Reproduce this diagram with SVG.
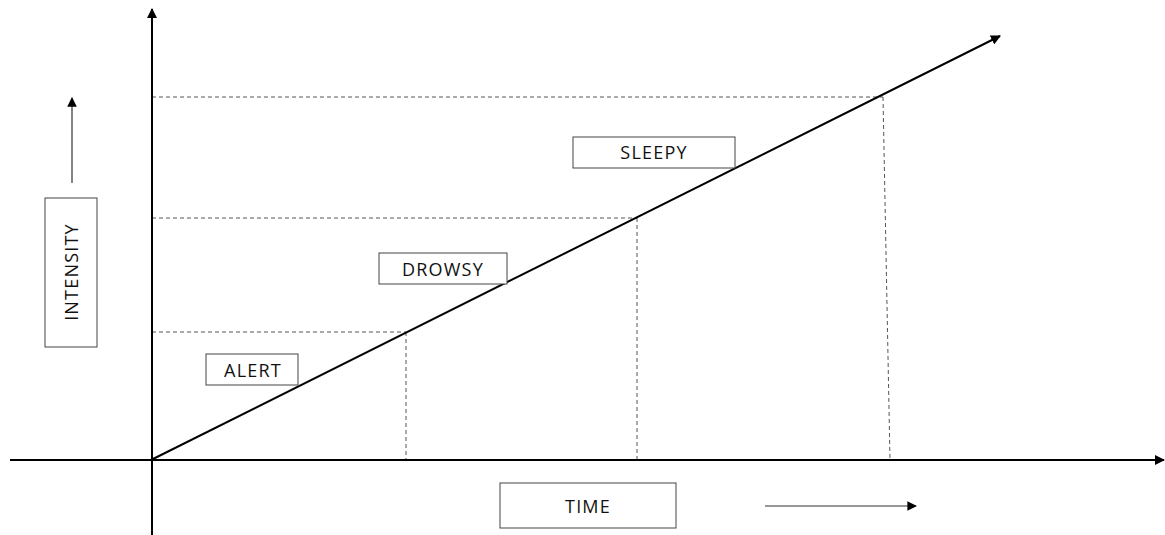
<svg xmlns="http://www.w3.org/2000/svg" width="1165" height="535" viewBox="0 0 1165 535">
<style>
.axis{stroke:#000;stroke-width:2;fill:none}
.dash{stroke:#555;stroke-width:1;stroke-dasharray:4 3;fill:none}
.box{fill:#fff;stroke:#444;stroke-width:1}
.lbl{font-family:"Open Sans","Liberation Sans",sans-serif;font-size:18px;letter-spacing:1.2px;fill:#111;text-anchor:middle}
.thin{stroke:#333;stroke-width:1.2;fill:none}
</style>
<defs>
<marker id="ah" viewBox="0 0 10 10" refX="9" refY="5" markerWidth="5" markerHeight="5" orient="auto" markerUnits="strokeWidth">
<path d="M0,0 L10,5 L0,10 z" fill="#000"/>
</marker>
<marker id="ahs" viewBox="0 0 10 10" refX="9" refY="5" markerWidth="8" markerHeight="8" orient="auto" markerUnits="strokeWidth">
<path d="M0,0 L10,5 L0,10 z" fill="#000"/>
</marker>
</defs>
<rect width="1165" height="535" fill="#fff"/>
<g id="connectors">
<line class="dash" x1="152" y1="97" x2="883" y2="97"/>
<line class="dash" x1="152" y1="218" x2="637" y2="218"/>
<line class="dash" x1="152" y1="332" x2="406" y2="332"/>
<line class="dash" x1="406" y1="332" x2="406" y2="460"/>
<line class="dash" x1="637" y1="218" x2="637" y2="460"/>
<line class="dash" x1="883" y1="97" x2="890" y2="460"/>
<line class="axis" x1="152" y1="535" x2="152" y2="9" marker-end="url(#ah)"/>
<line class="axis" x1="10" y1="460" x2="1164" y2="460" marker-end="url(#ah)"/>
<line class="axis" x1="151" y1="460" x2="1000" y2="36" marker-end="url(#ah)"/>
<line class="thin" stroke="#777" x1="72" y1="183" x2="72" y2="98" marker-end="url(#ahs)"/>
<line class="thin" x1="765" y1="506" x2="916" y2="506" marker-end="url(#ahs)"/>
</g>
<g id="intensity">
<rect class="box" x="45" y="198" width="52" height="149"/>
<text class="lbl" letter-spacing="0.3" transform="translate(78,272) rotate(-90)">INTENSITY</text>
</g>
<g id="alert">
<rect class="box" x="206" y="354" width="92" height="31"/>
<text class="lbl" x="253" y="377">ALERT</text>
</g>
<g id="drowsy">
<rect class="box" x="379" y="253" width="128" height="31"/>
<text class="lbl" x="443" y="276">DROWSY</text>
</g>
<g id="sleepy">
<rect class="box" x="573" y="137" width="162" height="31"/>
<text class="lbl" font-size="20" letter-spacing="1" font-family="Liberation Sans, sans-serif" x="654" y="159">SLEEPY</text>
</g>
<g id="time">
<rect class="box" x="500" y="483" width="176" height="45"/>
<text class="lbl" x="588" y="513">TIME</text>
</g>
</svg>
